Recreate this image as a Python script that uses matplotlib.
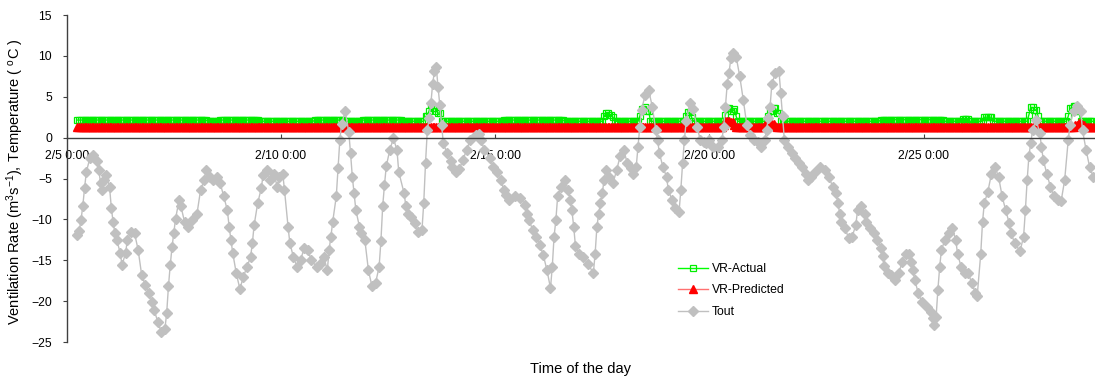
import matplotlib
matplotlib.use('Agg')
import matplotlib.pyplot as plt
import matplotlib.dates as mdates
from matplotlib.ticker import FuncFormatter, MultipleLocator
import numpy as np
import pandas as pd

plt.rcParams['font.family'] = ['Liberation Sans', 'DejaVu Sans']
plt.rcParams['mathtext.fontset'] = 'custom'
plt.rcParams['mathtext.rm'] = 'Liberation Sans'
plt.rcParams['mathtext.it'] = 'Liberation Sans:italic'

start = pd.Timestamp('2013-02-05 00:00')

# outside temperature, hours after 2/5 0:00 and value (deg C)
tout_hour = [6, 7, 8, 9, 10, 11, 13, 15, 17, 18, 19, 20, 21, 22, 24, 25, 26, 27, 28, 30,
             31, 33, 34, 36, 38, 40, 42, 44, 46, 48, 49, 51, 53, 55, 56, 57, 58, 59, 60, 61,
             63, 64, 66, 68, 70, 73, 75, 77, 78, 80, 82, 84, 86, 88, 90, 91, 92, 93, 95, 97,
             99, 101, 103, 104, 105, 107, 109, 110, 112, 114, 116, 118, 119, 121, 122, 124, 125, 127, 129, 131,
             133, 135, 137, 140, 142, 144, 146, 147, 148, 149, 151, 152, 153, 154, 156, 158, 159, 160, 161, 162,
             164, 165, 167, 169, 171, 173, 175, 176, 177, 178, 179, 181, 183, 185, 186, 189, 190, 191, 193, 195,
             197, 199, 200, 201, 202, 203, 204, 205, 206, 207, 208, 209, 210, 211, 213, 215, 216, 218, 220, 222,
             224, 226, 229, 231, 232, 234, 237, 239, 241, 243, 245, 246, 248, 251, 254, 257, 258, 259, 261, 263,
             265, 267, 269, 271, 272, 273, 274, 275, 277, 279, 281, 282, 283, 284, 285, 287, 289, 292, 295, 296,
             297, 298, 299, 300, 301, 302, 304, 306, 308, 310, 312, 314, 316, 317, 319, 320, 321, 322, 324, 326,
             328, 330, 331, 332, 334, 336, 337, 339, 341, 343, 344, 345, 346, 347, 349, 351, 353, 355, 357, 358,
             360, 362, 365, 367, 368, 369, 370, 371, 372, 373, 375, 377, 379, 381, 383, 385, 387, 389, 391, 392,
             393, 394, 395, 397, 399, 400, 401, 402, 404, 406, 408, 410, 412, 414, 415, 417, 419, 422, 425, 427,
             429, 431, 432, 433, 434, 436, 438, 440, 442, 443, 445, 447, 448, 450, 452, 454, 456, 457, 458, 460,
             462, 464, 466, 468, 470, 472, 473, 474, 475, 477, 479, 482, 484, 485, 486, 487, 488, 489, 490, 492,
             494, 496, 498, 499, 501, 503, 505, 507, 509, 510, 512, 513, 514, 516, 518, 520, 522, 524, 526, 528,
             529, 531, 534, 536, 537, 538, 539, 540, 541, 543, 545, 546, 547, 549, 551, 553, 555, 557, 559, 561,
             562, 564, 566, 568, 569, 571, 573, 575]
tout_val = [-11.9, -11.4, -10.1, -8.4, -6.2, -4.2, -2.5, -2.1, -2.9, -4.0, -5.6, -6.4, -5.2, -4.6, -6.0, -8.6, -10.3, -11.7, -12.5, -14.1,
            -15.6, -14.1, -12.5, -11.5, -11.7, -13.7, -16.8, -18.0, -19.0, -20.1, -21.1, -22.5, -23.8, -23.4, -21.5, -18.2, -15.6, -13.4, -11.7, -9.9,
            -7.6, -8.4, -10.3, -10.9, -10.1, -9.3, -6.4, -5.2, -4.0, -4.8, -5.2, -4.8, -5.6, -7.2, -8.9, -10.9, -12.5, -14.1, -16.6, -18.5,
            -17.0, -15.8, -14.6, -12.9, -10.7, -8.0, -6.2, -4.6, -4.0, -5.2, -4.4, -6.0, -4.8, -4.4, -6.4, -10.9, -12.9, -14.6, -15.8, -15.0,
            -13.5, -13.7, -15.0, -15.8, -15.4, -14.6, -16.2, -13.7, -12.1, -10.3, -7.2, -3.7, -0.3, 1.7, 3.2, 0.7, -1.9, -4.8, -6.8, -8.9,
            -10.9, -11.7, -12.5, -16.2, -18.2, -17.8, -15.8, -12.7, -8.4, -5.8, -3.5, -1.5, -0.1, -1.5, -4.2, -6.8, -8.4, -9.3, -9.7, -10.5,
            -11.5, -11.3, -8.0, -3.1, 0.9, 2.4, 4.2, 6.6, 8.1, 8.7, 6.2, 4.0, 1.5, -0.7, -1.9, -2.9, -3.6, -4.2, -3.8, -2.7,
            -1.5, -0.3, 0.3, 0.5, -0.3, -1.5, -2.5, -3.6, -4.2, -5.2, -6.4, -7.0, -7.6, -7.2, -7.4, -8.2, -9.3, -10.1, -11.3, -12.1,
            -13.1, -14.4, -16.2, -18.4, -15.8, -12.1, -10.1, -7.2, -6.0, -5.2, -6.4, -7.6, -8.9, -10.9, -13.3, -14.2, -14.6, -15.4, -16.6, -14.2,
            -10.9, -9.3, -8.0, -6.8, -5.2, -4.0, -4.8, -5.6, -4.0, -2.3, -1.5, -3.1, -3.7, -4.4, -3.6, -1.1, 1.3, 3.4, 5.2, 5.8,
            3.8, 0.9, -0.3, -1.9, -3.6, -4.8, -6.4, -7.6, -8.6, -9.1, -6.4, -3.1, -0.3, 2.0, 4.2, 3.5, 1.3, -0.3, -0.5, -0.7,
            -0.3, -1.1, -1.1, -0.3, 1.3, 3.8, 6.6, 7.9, 9.7, 10.3, 9.9, 7.5, 4.6, 1.5, 0.3, -0.3, -0.5, -1.1, -0.3, 0.9,
            2.4, 3.8, 6.6, 7.9, 8.1, 5.4, 2.6, -0.3, -1.1, -1.9, -2.5, -3.1, -3.6, -4.4, -5.2, -4.8, -4.2, -3.6, -4.0, -4.8,
            -6.0, -6.8, -8.0, -9.3, -10.3, -11.1, -12.3, -12.1, -10.7, -8.9, -8.4, -9.3, -10.3, -11.1, -11.7, -12.5, -13.5, -14.5, -15.7, -16.6,
            -16.8, -17.4, -16.6, -15.2, -14.2, -14.2, -15.2, -16.2, -17.4, -19.0, -20.1, -20.7, -21.3, -22.1, -22.9, -21.9, -18.6, -15.8, -13.7, -12.5,
            -11.7, -11.1, -12.5, -14.2, -15.8, -16.6, -16.6, -17.8, -19.0, -19.4, -14.2, -10.3, -8.0, -6.6, -4.4, -3.6, -4.8, -7.2, -8.9, -10.5,
            -11.7, -12.9, -13.9, -12.1, -8.9, -5.2, -2.2, -0.7, 0.9, 2.2, 0.6, -1.1, -2.7, -4.4, -6.0, -7.2, -7.6, -7.8, -5.2, -0.3,
            1.6, 3.3, 3.9, 3.3, 0.9, -1.5, -3.6, -4.8]

# ventilation rates (hourly from 2/5 6:00), given as value / number of hours
vr_act_val = [2.15, 2.0, 2.15, 2.0, 2.15, 2.0, 2.15, 2.0, 2.6, 3.3, 4.0, 3.6, 3.3, 3.0,
              2.0, 2.15, 2.0, 2.6, 3.0, 2.8, 2.5, 2.0, 2.6, 3.5, 3.8, 3.3, 2.0,
              2.6, 3.1, 2.5, 2.0, 2.8, 3.6, 3.2, 3.5, 2.6, 2.0, 2.7, 3.3, 3.6, 3.0,
              2.0, 2.2, 2.0, 2.25, 2.0, 2.5, 2.0, 2.8, 3.7, 3.4, 2.7, 2.0, 2.6, 3.6, 3.9, 3.3, 2.0]
vr_act_hrs = [73, 7, 22, 31, 17, 10, 22, 13, 2, 1, 1, 2, 1, 2,
              35, 34, 22, 1, 2, 2, 1, 14, 1, 2, 1, 2, 20,
              1, 2, 1, 18, 1, 2, 2, 1, 1, 17, 1, 2, 2, 2,
              56, 36, 10, 4, 8, 5, 20, 1, 2, 2, 1, 16, 1, 2, 2, 2, 8]
vr_pred_val = [1.3, 1.6, 2.0, 1.9, 1.6, 1.3, 1.5, 1.8, 1.7, 1.4, 1.3, 1.6, 1.8, 1.5, 1.3]
vr_pred_hrs = [362, 1, 3, 2, 1, 16, 1, 3, 2, 1, 167, 2, 2, 2, 7]

vr_actual = np.repeat(vr_act_val, vr_act_hrs)
vr_pred = np.repeat(vr_pred_val, vr_pred_hrs)
vr_time_a = start + pd.to_timedelta(6 + np.arange(len(vr_actual)), unit='h')
vr_time_p = start + pd.to_timedelta(6 + np.arange(len(vr_pred)), unit='h')
tout_time = start + pd.to_timedelta(tout_hour, unit='h')

fig = plt.figure(figsize=(10.95, 3.76), dpi=100)
ax = fig.add_axes([0.0609, 0.0904, 0.9391, 0.8697])

ax.plot(vr_time_a, vr_actual, color='#00FF00', lw=1.0, marker='s', ms=4.8,
        mfc='none', mec='#00EE00', mew=0.9, label='VR-Actual')
ax.plot(vr_time_p, vr_pred, color='#FF7070', lw=1.0, marker='^', ms=5.5,
        mfc='#FF0000', mec='#FF0000', label='VR-Predicted')
ax.plot(tout_time, tout_val, color='#C0C0C0', lw=1.0, marker='D', ms=4.6,
        mfc='#C0C0C0', mec='#C0C0C0', label='Tout')

ax.set_ylim(-25, 15)
ax.yaxis.set_major_locator(MultipleLocator(5))
ax.set_xlim(start, start + pd.Timedelta(days=24))
ax.xaxis.set_major_locator(mdates.DayLocator(bymonthday=[5, 10, 15, 20, 25]))
ax.xaxis.set_major_formatter(FuncFormatter(
    lambda x, pos: '{d.month}/{d.day} {d.hour}:{d.minute:02d}'.format(d=mdates.num2date(x))))

ax.spines['top'].set_visible(False)
ax.spines['right'].set_visible(False)
ax.spines['bottom'].set_position(('data', 0))
for s in ('left', 'bottom'):
    ax.spines[s].set_color('#404040')
    ax.spines[s].set_linewidth(1.0)

ax.tick_params(axis='x', direction='in', length=3, pad=9, labelsize=8.8, color='#404040')
ax.tick_params(axis='y', direction='out', length=3, pad=7.5, labelsize=8.8, color='#404040')

ax.set_ylabel(r'Ventilation Rate (m$^{3}$s$^{-1}$), Temperature ( $^{\mathrm{o}}$C )', fontsize=10.5)
ax.yaxis.set_label_coords(-0.0396, 0.49)
ax.set_xlabel('Time of the day', fontsize=10.5)
ax.xaxis.set_label_coords(0.5, -0.06)

ax.legend(loc='center left', bbox_to_anchor=(0.5885, 0.158), frameon=False,
          fontsize=8.8, borderpad=0, handlelength=2.45, handletextpad=0.3,
          labelspacing=0.78)

fig.savefig('out.png', dpi=100)
